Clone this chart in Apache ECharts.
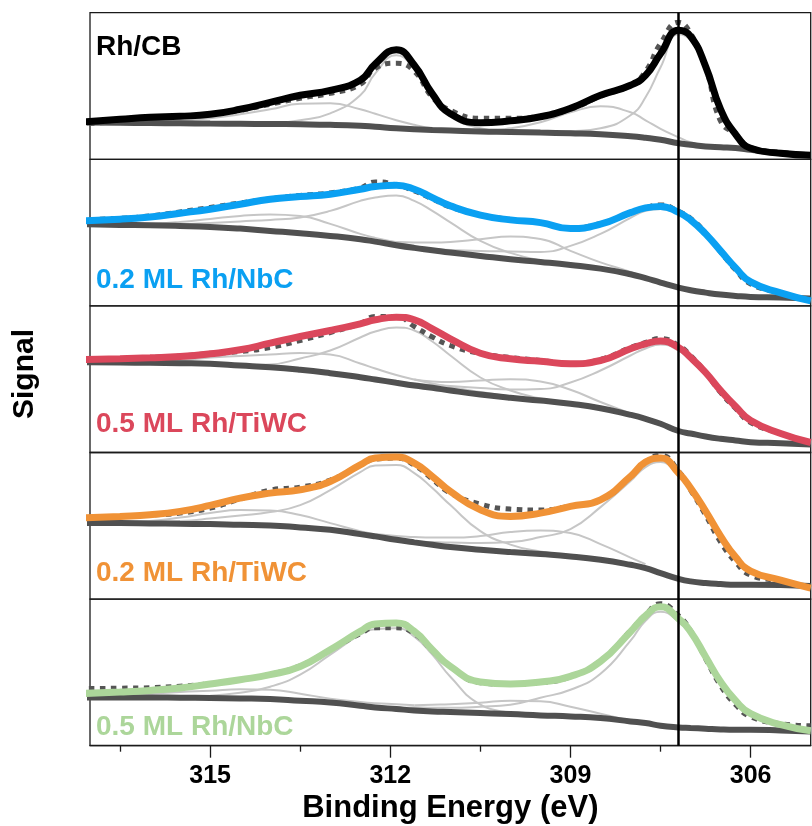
<!DOCTYPE html>
<html>
<head>
<meta charset="utf-8">
<script src="https://cdn.jsdelivr.net/npm/echarts@6/dist/echarts.min.js"></script>
<style>
  html, body { margin: 0; background: #fff; }
  #chart { width: 812px; height: 826px; }
</style>
</head>
<body>
<div id="chart"></div>
<script>
// binding energies (eV), shared by every curve
const energy = [317.2, 316.5, 316, 315.5, 315, 314.5, 314, 313.5, 313, 312.5, 312.25, 311.9, 311.6, 311.3, 311,
  310.5, 310, 309.5, 309, 308.5, 308, 307.75, 307.5, 307.2, 307, 306.75, 306.5, 306.25, 306, 305.5, 305];
const _ = null;

const majorTicks = [315, 312, 309, 306];
const minorTicks = [316.5, 313.5, 310.5, 307.5];
const refLine = 307.2;

// Rh/CB
const cbFit = [37, 40, 42, 43, 45, 50, 57, 64, 69, 79, 95.5, 109.5, 94, 65.5, 45.5, 36.5, 38.5, 42.5, 51, 64, 74, 84, 105.5, 129, 123, 93, 50, 25, 11, 6, 4];
const cbData = [35, 38, 41, 43, 45, 49, 55, 61, 66, 75, 91, 96, 88, 62, 49, 41, 41, 43, 50, 63, 74, 88, 116, 137, 126, 92, 38, 25, 12, 7, 4];
const cbBg = [37, 36.5, 36.3, 36, 35.7, 35.5, 35.3, 35, 34.5, 33.5, 32.5, 31, 30, 29.3, 28.7, 27.7, 27.3, 26.7, 26, 25, 23, 21.5, 19.5, 16, 14.5, 12.8, 12, 11.3, 9.5, 6, 4];
const cbComp1 = [_, _, 37, 38.5, 41, 45, 50, 55.5, 56, 50, 45.5, 39, 34.5, 31, 29, _, _, _, _, _, _, _, _, _, _, _, _, _, _, _, _];
const cbComp2 = [_, _, _, _, _, _, 35.5, 39, 46, 64, 86, 104, 90, 62, 43, 31, 27.5, _, _, _, _, _, _, _, _, _, _, _, _, _, _];
const cbComp3 = [_, _, _, _, _, _, _, _, _, _, _, _, _, _, 29, 28.5, 31, 37, 47, 53, 47, 39, 30.5, 22, 17, 13.5, _, _, _, _, _];
const cbComp4 = [_, _, _, _, _, _, _, _, _, _, _, _, _, _, _, _, _, 27, 28, 31, 44, 62, 92, 125, 119, 90, 47, 23, 10.5, 6, _];

// 0.2 ML Rh/NbC
const nb2Fit = [85, 86.7, 89, 92.7, 96.7, 101.7, 106.7, 109.3, 111.7, 116.7, 119.3, 120.7, 116.7, 108.3, 100, 90.7, 86, 83.3, 77.3, 81.7, 93.3, 98, 99.5, 93.5, 86, 72, 55, 38, 24, 13, 5];
const nb2Data = [86, 87.5, 90, 94, 98.5, 103, 107, 110.5, 113, 118, 124, 121, 115, 107, 99, 91, 86.5, 83, 78, 82.5, 93, 98, 101, 94.5, 87.5, 73, 54, 36, 22, 13, 5];
const nb2Bg = [81.7, 81, 80.7, 80, 79, 77.3, 75, 72.7, 70, 66.7, 64.3, 60.7, 58, 55.7, 53.3, 50, 46.7, 44, 41, 37.3, 31.7, 27.7, 23.3, 18.3, 15.7, 13.3, 11.3, 10, 9, 8.3, 7.3];
const nb2Comp1 = [_, 81.3, 82, 84, 87, 90, 91.5, 90, 82, 72, 68, 63.5, 59.5, 56, 53.3, _, _, _, _, _, _, _, _, _, _, _, _, _, _, _, _];
const nb2Comp2 = [_, _, 80.8, 81.5, 83, 84.5, 86, 88.5, 95, 105, 108.5, 110.5, 105, 95, 83.5, 65, 53, 45.5, 41, _, _, _, _, _, _, _, _, _, _, _, _];
const nb2Comp3 = [_, _, _, _, _, _, _, _, _, 67, 65.5, 64, 63.5, 63.5, 64, 66.7, 69.3, 67, 55, 43.5, 34, 28, _, _, _, _, _, _, _, _, _];
const nb2Comp4 = [_, _, _, _, _, _, _, _, _, _, _, 61, 58.5, 57, 56, 55, 54.5, 54, 60, 72, 88, 95, 97, 92, 84.5, 71, 54, 37, 23, 12, 7.5];

// 0.5 ML Rh/TiWC
const tw5Fit = [92.7, 93.7, 94.7, 96, 98.7, 102.7, 109.3, 116, 122, 128.7, 132.7, 135.3, 132.7, 123.7, 113.7, 99.3, 93.7, 91.3, 88.7, 92, 103.7, 108.7, 111.5, 105, 95, 80, 62, 46, 32, 19, 10];
const tw5Data = [93, 94, 95, 96.5, 99, 101, 105, 112, 120, 129, 136, 136, 126, 115.5, 107, 99, 95, 92, 89, 93, 105, 110, 114, 107, 97, 80, 60, 44, 30, 19, 10];
const tw5Bg = [90.3, 90, 89.7, 89.3, 88.7, 87, 85.3, 82.7, 79.3, 75.3, 73, 69.7, 67, 64.7, 62, 58, 54.7, 52, 48.7, 44.3, 37.7, 33.7, 28.7, 21.5, 19, 16, 13.7, 12, 10.3, 9.3, 8];
const tw5Comp1 = [_, 90.2, 90.5, 92, 95, 96.5, 98, 99.5, 98, 89, 84, 77.5, 73, 69, 65.5, 60.5, 56, 52.5, _, _, _, _, _, _, _, _, _, _, _, _, _];
const tw5Comp2 = [_, _, _, _, _, 87.3, 88, 94, 102, 115, 121, 125, 122, 111, 97, 75, 62, 54, 49.5, _, _, _, _, _, _, _, _, _, _, _, _];
const tw5Comp3 = [_, _, _, _, _, _, _, _, _, _, _, _, 73, 71, 70.5, 72, 73.3, 71, 62.7, 50.5, 39, 34, _, _, _, _, _, _, _, _, _];
const tw5Comp4 = [_, _, _, _, _, _, _, _, _, _, _, 71, 69, 67.5, 66.5, 64.5, 63, 63.5, 70, 82, 97, 104, 108, 102, 92, 77, 59, 43, 30, 17.5, 9];

// 0.2 ML Rh/TiWC
const tw2Fit = [81, 82.7, 84.3, 87.7, 93.7, 101, 106, 109.3, 117.7, 134.3, 141, 142, 136, 122.7, 107.7, 89.3, 82.7, 86, 92.7, 99.3, 122.7, 137, 141, 126, 111, 88, 63, 42, 28, 19, 11];
const tw2Data = [81, 82.5, 84, 86, 91, 100, 109, 112, 119, 134, 140, 141, 134, 120, 106, 95, 90, 89, 93, 99, 122, 137, 144, 128, 109, 84, 57, 37, 24, 18, 11];
const tw2Bg = [76, 76, 75.7, 75.3, 75, 74.3, 73.7, 71.7, 69.3, 65, 62.7, 59.3, 56.7, 54.3, 52, 49.3, 47, 45, 42.7, 39.3, 34.3, 31, 26, 20.3, 17.7, 16, 15, 14.3, 14.3, 14, 13];
const tw2Comp1 = [_, 76.5, 78, 81.5, 86, 89, 88.5, 84, 76, 68, 64.5, 61, 58, 55.5, _, _, _, _, _, _, _, _, _, _, _, _, _, _, _, _, _];
const tw2Comp2 = [_, _, 76.5, 78, 80.5, 83.5, 87, 94, 109, 127, 133.5, 134, 126, 111, 94, 68, 54.5, 47.5, 43.5, _, _, _, _, _, _, _, _, _, _, _, _];
const tw2Comp3 = [_, _, _, _, _, _, _, _, _, _, 65, 63, 62, 61.5, 61.5, 63, 67, 68.5, 66, 55, 41.5, 35, _, _, _, _, _, _, _, _, _];
const tw2Comp4 = [_, _, _, _, _, _, _, _, _, _, _, 60, 58, 57, 56.5, 56, 57, 62, 70, 92, 118, 132, 137, 123, 108, 85, 60, 40, 27, 18, 12];

// 0.5 ML Rh/NbC
const nb5Fit = [52, 53.7, 55.3, 57.7, 61.7, 66, 71, 79.3, 96, 114.3, 121.7, 122.7, 114.3, 96, 79.3, 63.7, 61.7, 63.7, 69.3, 84.3, 114, 130, 139, 127, 114, 89, 64, 45, 32, 21, 15];
const nb5Data = [57, 57.5, 58, 59.5, 62, 66, 71.5, 80, 96, 112, 118, 118, 112, 95, 79, 63, 61.5, 63, 69, 85, 115, 131, 142, 130, 115, 87, 60, 41, 29, 22, 20];
const nb5Bg = [48.3, 48.3, 48.3, 48, 47.7, 47.3, 46.7, 45, 43.3, 40, 38.3, 36.7, 35.3, 34.3, 33.7, 32.7, 31.7, 30.3, 29.3, 27.7, 24.3, 22.7, 20, 18.3, 17.7, 17, 16.3, 16, 16, 15.3, 14.3];
const nb5Comp1 = [_, 50, 52, 53.7, 55, 56.5, 56, 52, 47, 43.7, 42.5, 41.5, 40.5, _, _, _, _, _, _, _, _, _, _, _, _, _, _, _, _, _, _];
const nb5Comp2 = [_, _, _, _, 50, 53, 59, 71, 91, 111, 116.5, 117.5, 109, 91, 69, 41, 33.5, _, _, _, _, _, _, _, _, _, _, _, _, _, _];
const nb5Comp3 = [_, _, _, _, _, _, _, _, _, _, _, _, 40.5, 41, 41.5, 43, 45, 44.5, 39, 32, 25, _, _, _, _, _, _, _, _, _, _];
const nb5Comp4 = [_, _, _, _, _, _, _, _, _, _, _, 37, 38.5, 38, 38, 39, 41, 48, 56, 72, 105, 125, 134, 124, 111, 86, 61, 43, 30, 20, 15];

const panels = [
  { label: 'Rh/CB', color: '#000000', labelY: 47.5, fit: cbFit, data: cbData, bg: cbBg, comps: [cbComp1, cbComp2, cbComp3, cbComp4] },
  { label: '0.2 ML Rh/NbC', color: '#0aa0f2', labelY: 280, fit: nb2Fit, data: nb2Data, bg: nb2Bg, comps: [nb2Comp1, nb2Comp2, nb2Comp3, nb2Comp4] },
  { label: '0.5 ML Rh/TiWC', color: '#db475b', labelY: 424, fit: tw5Fit, data: tw5Data, bg: tw5Bg, comps: [tw5Comp1, tw5Comp2, tw5Comp3, tw5Comp4] },
  { label: '0.2 ML Rh/TiWC', color: '#f09236', labelY: 573, fit: tw2Fit, data: tw2Data, bg: tw2Bg, comps: [tw2Comp1, tw2Comp2, tw2Comp3, tw2Comp4] },
  { label: '0.5 ML Rh/NbC', color: '#acd69a', labelY: 727, fit: nb5Fit, data: nb5Data, bg: nb5Bg, comps: [nb5Comp1, nb5Comp2, nb5Comp3, nb5Comp4] },
];

const FONT = '"Liberation Sans", Arial, sans-serif';
const panelTop = 12.7;
const panelH = 146.6;
const SMOOTH = 0.5;

function pairs(arr) {
  return energy.map((e, i) => [e, arr[i]]).filter((p) => p[1] !== null);
}

const grid = [];
const xAxis = [];
const yAxis = [];
const series = [];

panels.forEach((p, i) => {
  const last = i === panels.length - 1;
  grid.push({
    left: 90,
    width: 720.7,
    top: panelTop + i * panelH,
    height: panelH,
    show: true,
    borderColor: '#1a1a1a',
    borderWidth: 1.3,
    backgroundColor: 'transparent',
  });
  xAxis.push({
    type: 'value',
    gridIndex: i,
    min: 305,
    max: 317,
    inverse: true,
    show: last,
    position: 'bottom',
    splitLine: { show: false },
    axisLine: { show: last, lineStyle: { color: '#1a1a1a', width: 1.3 } },
    axisTick: {
      show: last,
      customValues: majorTicks,
      length: 12,
      lineStyle: { color: '#1a1a1a', width: 1.3 },
    },
    axisLabel: {
      show: last,
      customValues: majorTicks,
      margin: 18,
      color: '#000',
      fontSize: 25,
      fontWeight: 'bold',
      fontFamily: FONT,
    },
    name: last ? 'Binding Energy (eV)' : '',
    nameLocation: 'middle',
    nameGap: 47,
    nameTextStyle: { color: '#000', fontSize: 31, fontWeight: 'bold', fontFamily: FONT },
  });
  yAxis.push({
    type: 'value',
    gridIndex: i,
    min: 0,
    max: panelH,
    show: false,
  });

  p.comps.forEach((c) => {
    series.push({
      type: 'line',
      xAxisIndex: i,
      yAxisIndex: i,
      data: pairs(c),
      smooth: SMOOTH,
      showSymbol: false,
      clip: false,
      silent: true,
      lineStyle: { color: '#c6c6c6', width: 2 },
      z: 1,
    });
  });
  series.push({
    type: 'line',
    xAxisIndex: i,
    yAxisIndex: i,
    data: pairs(p.bg),
    smooth: SMOOTH,
    showSymbol: false,
    clip: false,
    silent: true,
    lineStyle: { color: '#505050', width: 6 },
    z: 2,
  });
  series.push({
    type: 'line',
    xAxisIndex: i,
    yAxisIndex: i,
    data: pairs(p.data),
    smooth: SMOOTH,
    showSymbol: false,
    clip: false,
    silent: true,
    lineStyle: { color: '#555555', width: 5, type: [5.5, 5.5] },
    z: 3,
  });
  series.push({
    type: 'line',
    xAxisIndex: i,
    yAxisIndex: i,
    data: pairs(p.fit),
    smooth: SMOOTH,
    showSymbol: false,
    clip: false,
    silent: true,
    lineStyle: { color: p.color, width: 7 },
    z: 4,
    markLine: {
      silent: true,
      symbol: ['none', 'none'],
      animation: false,
      label: { show: false },
      lineStyle: { color: '#000', width: 2.5, type: 'solid' },
      data: [{ xAxis: refLine }],
    },
  });
});

// minor ticks on the bottom panel
xAxis.push({
  type: 'value',
  gridIndex: panels.length - 1,
  min: 305,
  max: 317,
  inverse: true,
  position: 'bottom',
  offset: 0,
  splitLine: { show: false },
  axisLine: { show: false },
  axisLabel: { show: false },
  axisTick: {
    show: true,
    customValues: minorTicks,
    length: 6,
    lineStyle: { color: '#1a1a1a', width: 1.3 },
  },
});

const graphic = panels.map((p) => ({
  type: 'text',
  x: 96,
  y: p.labelY,
  style: {
    text: p.label,
    fill: p.color,
    font: 'bold 28px ' + FONT,
    textVerticalAlign: 'middle',
    verticalAlign: 'middle',
  },
  z: 10,
}));
graphic.push({
  type: 'text',
  x: 25,
  y: 374,
  rotation: Math.PI / 2,
  style: {
    text: 'Signal',
    fill: '#000',
    font: 'bold 30px ' + FONT,
    textAlign: 'center',
    align: 'center',
    textVerticalAlign: 'middle',
    verticalAlign: 'middle',
  },
});

const chart = echarts.init(document.getElementById('chart'));
chart.setOption({
  animation: false,
  backgroundColor: '#fff',
  grid,
  xAxis,
  yAxis,
  series,
  graphic,
});
</script>
</body>
</html>
